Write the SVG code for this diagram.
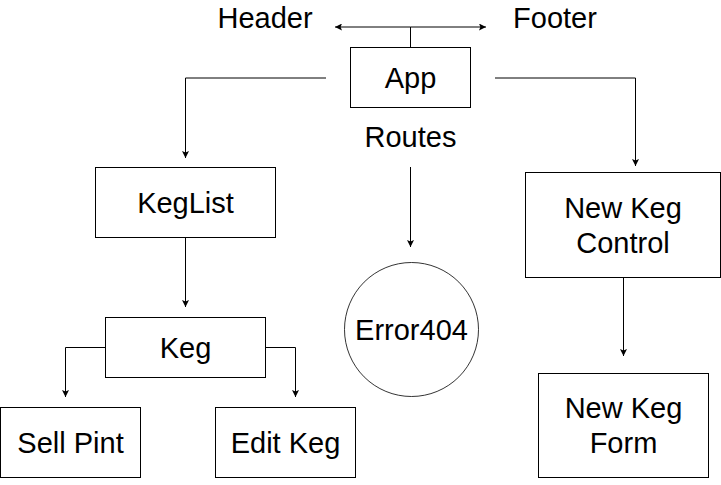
<svg xmlns="http://www.w3.org/2000/svg" width="721" height="485" viewBox="0 0 721 485">
<style>
.box{fill:#fff;stroke:#000;stroke-width:1}
.t{font-family:"Liberation Sans",Arial,Helvetica,sans-serif;font-size:29px;fill:#000;text-anchor:middle}
.c{fill:none;stroke:#000;stroke-width:1}
</style>
<defs>
<marker id="ah" viewBox="0 0 10 10" refX="10" refY="5" markerWidth="7" markerHeight="7" markerUnits="userSpaceOnUse" orient="auto">
<path d="M0,0 L10,5 L0,10 L2,5 Z" fill="#000"/>
</marker>
</defs>
<g id="connectors">
<path class="c" d="M410.5,47.5 V27" />
<path class="c" d="M410.5,27 H335" marker-end="url(#ah)"/>
<path class="c" d="M410.5,27 H486" marker-end="url(#ah)"/>
<path class="c" d="M326,78 H185.5 V158" marker-end="url(#ah)"/>
<path class="c" d="M495,78 H635.5 V166" marker-end="url(#ah)"/>
<path class="c" d="M410.5,167 V247" marker-end="url(#ah)"/>
<path class="c" d="M185.5,237.5 V307" marker-end="url(#ah)"/>
<path class="c" d="M105.5,347.5 H65.5 V397" marker-end="url(#ah)"/>
<path class="c" d="M265.5,347.5 H295.5 V397" marker-end="url(#ah)"/>
<path class="c" d="M623.5,277.5 V356" marker-end="url(#ah)"/>
</g>
<g id="header"><text class="t" x="265" y="28">Header</text></g>
<g id="footer"><text class="t" x="555" y="28">Footer</text></g>
<g id="app"><rect class="box" x="350.5" y="47.5" width="120" height="60"/><text class="t" x="410.5" y="88">App</text></g>
<g id="routes"><text class="t" x="410.5" y="147">Routes</text></g>
<g id="keglist"><rect class="box" x="95.5" y="167.5" width="180" height="70"/><text class="t" x="185.5" y="212.5">KegList</text></g>
<g id="keg"><rect class="box" x="105.5" y="317.5" width="160" height="60"/><text class="t" x="185.5" y="358">Keg</text></g>
<g id="sellpint"><rect class="box" x="0.5" y="407.5" width="140" height="70"/><text class="t" x="70.5" y="453">Sell Pint</text></g>
<g id="editkeg"><rect class="box" x="215.5" y="407.5" width="140" height="70"/><text class="t" x="285.5" y="453">Edit Keg</text></g>
<g id="error404"><circle cx="411.5" cy="329.5" r="67" fill="#fff" stroke="#000" stroke-width="0.8"/><text class="t" x="411.5" y="340">Error404</text></g>
<g id="newkegcontrol"><rect class="box" x="525.5" y="172.5" width="195" height="105"/><text class="t" x="623" y="218">New Keg</text><text class="t" x="623" y="253">Control</text></g>
<g id="newkegform"><rect class="box" x="538.5" y="373.5" width="170" height="104"/><text class="t" x="623.5" y="418">New Keg</text><text class="t" x="623.5" y="453">Form</text></g>
</svg>
